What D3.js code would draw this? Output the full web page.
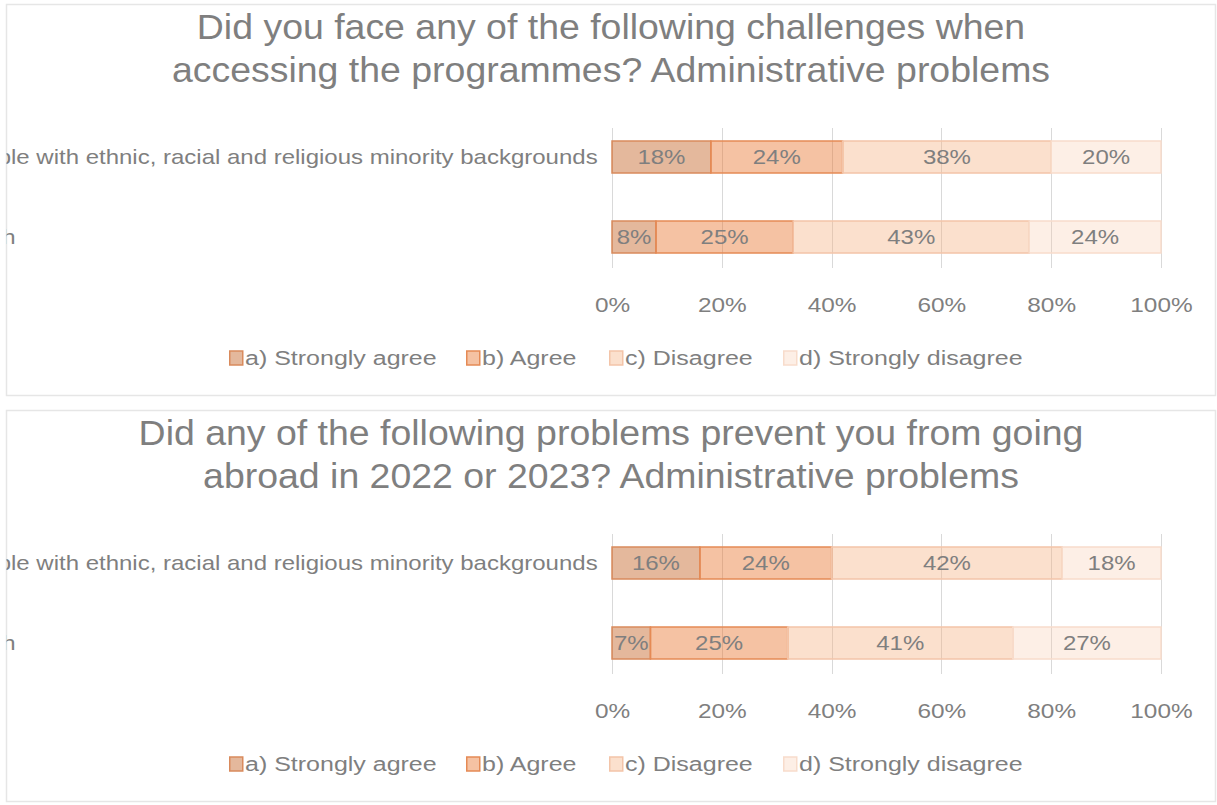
<!DOCTYPE html>
<html>
<head>
<meta charset="utf-8">
<script src="https://cdn.jsdelivr.net/npm/d3@7"></script>
<style>
  html, body { margin: 0; padding: 0; background: #fff; }
  svg { display: block; }
  text { font-family: "Liberation Sans", Arial, sans-serif; }
</style>
</head>
<body>
<svg id="chart" width="1217" height="805"></svg>
<script>
// Response categories (stack order, left to right)
const responses = ["a) Strongly agree", "b) Agree", "c) Disagree", "d) Strongly disagree"];
// Respondent groups (rows)
const groups = ["People with ethnic, racial and religious minority backgrounds", "Youth"];
// Tick labels on the percentage axis
const tickValues = [0, 20, 40, 60, 80, 100];

// Chart 1: challenges when accessing the programmes
const titleAccess = ["Did you face any of the following challenges when", "accessing the programmes? Administrative problems"];
const accessMinority = [18, 24, 38, 20];
const accessYouth = [8, 25, 43, 24];

// Chart 2: problems preventing going abroad
const titleAbroad = ["Did any of the following problems prevent you from going", "abroad in 2022 or 2023? Administrative problems"];
const abroadMinority = [16, 24, 42, 18];
const abroadYouth = [7, 25, 41, 27];

const fills = ["rgba(190,85,20,0.42)", "rgba(232,120,50,0.45)", "rgba(244,177,131,0.40)", "rgba(248,203,173,0.30)"];
const strokes = ["#d98a5c", "#e58a55", "#f3c4a8", "#f8dccb"];

const svg = d3.select("#chart");

// Place a text node at (x, y) with a horizontal stretch factor
function placeText(sel, xf, yf, sx) {
  sel.attr("transform", (d, i) => `translate(${xf(d, i)},${yf(d, i)}) scale(${sx},1)`);
}

function drawPanel(top, titleLines, rows, id) {
  const g = svg.append("g").attr("transform", `translate(0,${top})`);
  const panelX = 6.5, panelW = 1209, panelH = 391;

  g.append("clipPath").attr("id", id)
    .append("rect").attr("x", panelX).attr("y", 0).attr("width", panelW).attr("height", panelH);

  g.append("rect")
    .attr("x", panelX).attr("y", 0.5).attr("width", panelW).attr("height", panelH)
    .attr("fill", "#fff").attr("stroke", "#e6e6e6").attr("stroke-width", 1.5);

  const inner = g.append("g").attr("clip-path", `url(#${id})`);

  // title
  inner.selectAll("text.title").data(titleLines).join("text")
    .attr("class", "title")
    .attr("text-anchor", "middle")
    .attr("font-size", 35)
    .attr("fill", "#7f7f7f")
    .text(d => d)
    .call(placeText, () => 611, (d, i) => 35 + i * 43, 1.07);

  const x = d3.scaleLinear().domain([0, 100]).range([612, 1161]);
  const y = d3.scaleBand().domain(groups).range([113, 273]).paddingInner(0.6).paddingOuter(0.3);

  const gridTop = 124, gridBottom = 264;
  inner.append("g").selectAll("line").data(tickValues).join("line")
    .attr("x1", d => Math.round(x(d)) + 0.5).attr("x2", d => Math.round(x(d)) + 0.5)
    .attr("y1", gridTop).attr("y2", gridBottom)
    .attr("stroke", "#d9d9d9").attr("stroke-width", 1);

  // x axis tick labels
  const axis = d3.axisBottom(x).tickValues(tickValues).tickFormat(d => d + "%").tickSize(0).tickPadding(0);
  const ax = inner.append("g").attr("transform", `translate(0,${gridBottom + 37})`).call(axis);
  ax.select(".domain").remove();
  ax.selectAll("text").attr("font-size", 20).attr("fill", "#7f7f7f")
    .attr("font-family", "'Liberation Sans', Arial, sans-serif")
    .attr("y", 0).attr("dy", "0.35em").attr("transform", "scale(1.22,1)");

  // category labels: left-aligned in a column that ends just left of the bars
  const catScale = 1.2;
  const cats = inner.selectAll("text.cat").data(groups).join("text")
    .attr("class", "cat")
    .attr("dy", "0.35em")
    .attr("text-anchor", "start")
    .attr("font-size", 20)
    .attr("fill", "#7f7f7f")
    .text(d => d);
  const widest = d3.max(cats.nodes(), n => n.getComputedTextLength()) * catScale;
  const catLeft = 598 - widest;
  cats.call(placeText, () => catLeft, d => y(d) + y.bandwidth() / 2, catScale);

  // stacked bars
  rows.forEach((vals, ri) => {
    const grp = groups[ri];
    let acc = 0;
    const segs = vals.map((v, k) => { const s = { k, v, x0: acc, x1: acc + v }; acc += v; return s; });
    const rowG = inner.append("g");
    rowG.selectAll("rect").data(segs).join("rect")
      .attr("x", d => x(d.x0)).attr("width", d => x(d.x1) - x(d.x0))
      .attr("y", y(grp)).attr("height", y.bandwidth())
      .attr("fill", d => fills[d.k]).attr("stroke", d => strokes[d.k]).attr("stroke-width", 1.5);
    rowG.selectAll("text").data(segs).join("text")
      .attr("dy", "0.35em")
      .attr("text-anchor", "middle").attr("font-size", 20).attr("fill", "#7f7f7f")
      .text(d => d.v + "%")
      .call(placeText, d => (x(d.x0) + x(d.x1)) / 2, () => y(grp) + y.bandwidth() / 2, 1.2);
  });

  // legend
  const legendX = [229, 466, 609, 783];
  const lg = inner.append("g").attr("transform", "translate(0,354)");
  const items = lg.selectAll("g").data(responses).join("g")
    .attr("transform", (d, i) => `translate(${legendX[i]},0)`);
  items.append("rect").attr("x", 0.75).attr("y", -7).attr("width", 13).attr("height", 14)
    .attr("fill", (d, i) => fills[i]).attr("stroke", (d, i) => strokes[i]).attr("stroke-width", 1.5);
  items.append("text").attr("dy", "0.35em")
    .attr("font-size", 20).attr("fill", "#7f7f7f").text(d => d)
    .call(placeText, () => 16, () => 0, 1.25);
}

drawPanel(4, titleAccess, [accessMinority, accessYouth], "clipA");
drawPanel(410, titleAbroad, [abroadMinority, abroadYouth], "clipB");
</script>
</body>
</html>
